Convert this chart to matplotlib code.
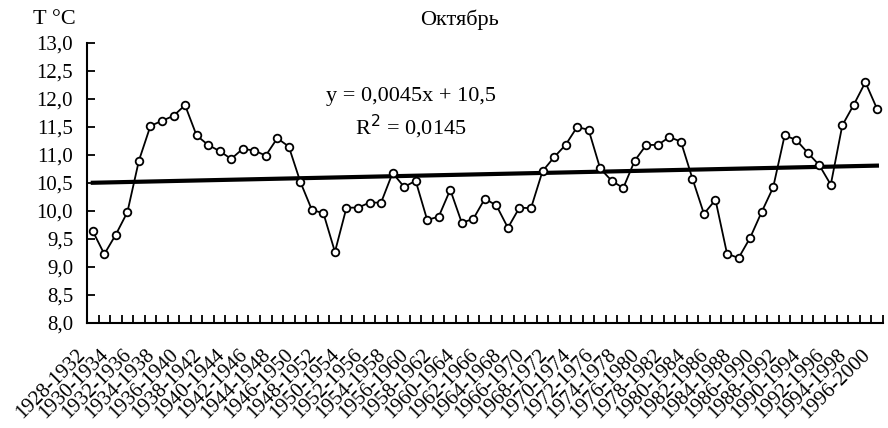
# Октябрь: 5-year moving mean of October temperature with a linear trend
import numpy as np
import matplotlib.pyplot as plt
from matplotlib.transforms import ScaledTranslation

plt.rcParams["font.family"] = ["Liberation Serif", "DejaVu Serif"]

# 5-year windows 1928-1932 ... 1996-2000
start_years = list(range(1928, 1997))
periods = [f"{y}-{y + 4}" for y in start_years]

temps = [
    9.64, 9.23, 9.58, 9.98, 10.90, 11.52, 11.61, 11.70, 11.89, 11.35,
    11.18, 11.07, 10.93, 11.11, 11.08, 10.99, 11.30, 11.15, 10.52, 10.02,
    9.96, 9.27, 10.06, 10.06, 10.15, 10.15, 10.68, 10.43, 10.54, 9.84,
    9.90, 10.38, 9.79, 9.86, 10.22, 10.10, 9.70, 10.06, 10.05, 10.71,
    10.96, 11.18, 11.50, 11.45, 10.76, 10.54, 10.41, 10.90, 11.18, 11.18,
    11.32, 11.24, 10.58, 9.95, 10.20, 9.24, 9.16, 9.52, 9.98, 10.42,
    11.35, 11.27, 11.04, 10.82, 10.47, 11.53, 11.90, 12.30, 11.83,
]

# linear trend as printed on the chart
slope = 0.0045
intercept = 10.5
r2 = 0.0145

x = np.arange(1, len(temps) + 1)

fig = plt.figure(figsize=(8.88, 4.28), dpi=100)
ax = fig.add_axes([0.098, 0.2453, 0.896, 0.6542])

ax.plot(x, temps, color="black", lw=1.3, marker="o", ms=5.5,
        mfc="white", mec="black", mew=1.3, zorder=3)
ax.plot(x, slope * x + intercept, color="black", lw=3, zorder=2)

ax.set_xlim(0.5, len(temps) + 0.5)
ax.set_ylim(8.0, 13.0)

for side in ("top", "right"):
    ax.spines[side].set_visible(False)
for side in ("left", "bottom"):
    ax.spines[side].set_linewidth(1.5)

yt = np.arange(8.0, 13.01, 0.5)
ax.set_yticks(yt)
ax.set_yticklabels([f"{v:.1f}".replace(".", ",") for v in yt])
ax.tick_params(axis="y", direction="in", length=6, width=1.3, labelsize=15, pad=10)

# boundary ticks between windows, labels for every other window
ax.set_xticks(np.arange(0.5, len(temps) + 1, 1.0), minor=True)
ax.set_xticks(x[::2])
ax.set_xticklabels(periods[::2], rotation=45, ha="right", va="center",
                   rotation_mode="anchor", fontsize=15)
ax.tick_params(axis="x", which="major", length=0, pad=21)
ax.tick_params(axis="x", which="minor", direction="in", length=6, width=1.3)
offset = ScaledTranslation(-7 / 72, 0, fig.dpi_scale_trans)
for lbl in ax.get_xticklabels():
    lbl.set_transform(lbl.get_transform() + offset)

fig.text(54 / 888, 1 - 20 / 428, "T °C", ha="center", va="center", fontsize=16)
fig.text(459 / 888, 1 - 20 / 428, "Октябрь", ha="center", va="center", fontsize=16)
fig.text(411 / 888, 1 - 96 / 428,
         f"y = {slope:.4f}x + {intercept:.1f}".replace(".", ","),
         ha="center", va="center", fontsize=16)
fig.text(411 / 888, 1 - 127 / 428,
         f"R$^2$ = {r2:.4f}".replace(".", ","),
         ha="center", va="center", fontsize=16)

fig.savefig("out.png", dpi=100)
